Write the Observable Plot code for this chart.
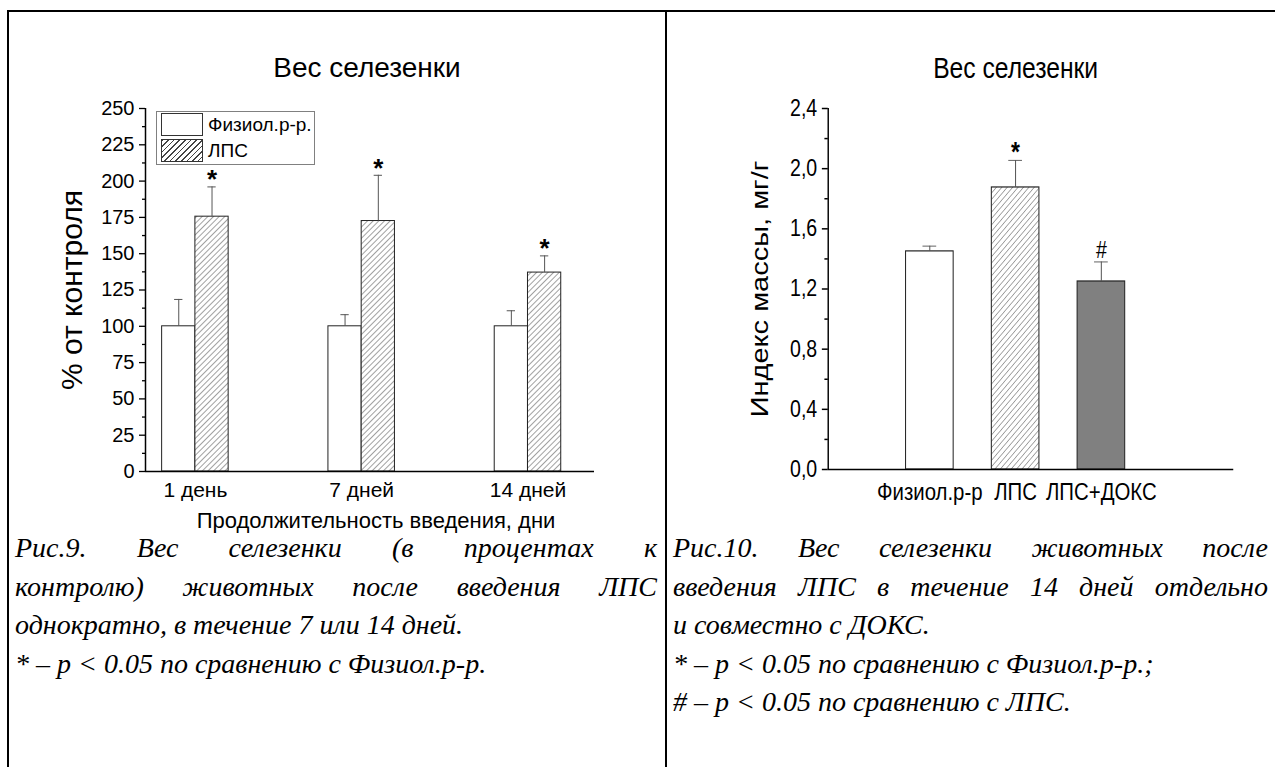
<!DOCTYPE html>
<html>
<head>
<meta charset="utf-8">
<script src="https://cdn.jsdelivr.net/npm/d3@7"></script>
<script src="https://cdn.jsdelivr.net/npm/@observablehq/plot@0.6"></script>
<style>
  body { margin: 0; background: #fff; width: 1275px; height: 767px; overflow: hidden; position: relative;
         font-family: "Liberation Sans", Arial, sans-serif; color: #000; }
  .abs { position: absolute; }
  .rule { position: absolute; background: #000; }
  .cap { position: absolute; font-family: "Liberation Serif", "Times New Roman", serif; font-style: italic;
         font-size: 28px; line-height: 38.5px; }
  .cap div { white-space: nowrap; }
  .cap div.j { text-align: justify; text-align-last: justify; }
  #legend { position: absolute; left: 156px; top: 111px; width: 157px; height: 52px;
            border: 1px solid #808080; font-size: 19px; background: #fff; }
  #legend .sw { position: absolute; left: 4px; width: 40px; height: 21px; border: 1px solid #333; }
  #legend .lb { position: absolute; left: 51px; line-height: 23px; }
  #left svg, #right svg { max-width: none !important; }
  #left g[aria-label="y-axis tick label"] text { font-size: 20px; }
  #left g[aria-label="x-axis tick label"] text { font-size: 21px; }
  #right g[aria-label="y-axis tick label"] text { font-size: 23px; }
  #right g[aria-label="x-axis tick label"] text { font-size: 24px; }
</style>
</head>
<body>
<!-- table borders -->
<div class="rule" style="left:7px;top:10px;width:1275px;height:2px"></div>
<div class="rule" style="left:7px;top:10px;width:2px;height:760px"></div>
<div class="rule" style="left:665px;top:10px;width:2px;height:760px"></div>

<div id="left" class="abs" style="left:9px;top:13px;width:655px"></div>
<div id="legend"></div>
<div id="right" class="abs" style="left:668px;top:13px;width:712px;transform:scaleX(0.85);transform-origin:0 0"></div>

<div class="cap" style="left:15px;top:529px;width:642px">
  <div class="j">Рис.9. Вес селезенки (в процентах к</div>
  <div class="j">контролю) животных после введения ЛПС</div>
  <div>однократно, в течение 7 или 14 дней.</div>
  <div>* – p &lt; 0.05 по сравнению с Физиол.р-р.</div>
</div>
<div class="cap" style="left:673px;top:529px;width:595px">
  <div class="j">Рис.10. Вес селезенки животных после</div>
  <div class="j">введения ЛПС в течение 14 дней отдельно</div>
  <div>и совместно с ДОКС.</div>
  <div>* – p &lt; 0.05 по сравнению с Физиол.р-р.;</div>
  <div># – p &lt; 0.05 по сравнению с ЛПС.</div>
</div>

<script>
// ---- Fig. 9: spleen weight, % of control, by treatment duration ----
const days = ["1 день", "7 дней", "14 дней"];
const series = ["Физиол.р-р.", "ЛПС"];
const salineMean = [100, 100, 100];
const salineErr = [18.5, 8, 10.7];
const lpsMean = [175.5, 172.5, 137];
const lpsErr = [20.5, 31.5, 11.5];
const lpsMarks = ["*", "*", "*"];
const pctTicks = d3.range(0, 251, 25);

// ---- Fig. 10: spleen mass index after 14 days ----
const groups = ["Физиол.р-р", "ЛПС", "ЛПС+ДОКС"];
const indexMean = [1.45, 1.875, 1.25];
const indexErr = [0.035, 0.18, 0.13];
const indexMarks = ["", "*", "#"];
const indexTicks = d3.range(0, 2.41, 0.4);

const sans = '"Liberation Sans", Arial, sans-serif';

function addHatch(svg, id, step) {
  const defs = d3.select(svg).insert("defs", ":first-child");
  const p = defs.append("pattern")
    .attr("id", id)
    .attr("patternUnits", "userSpaceOnUse")
    .attr("width", step).attr("height", step)
    .attr("patternTransform", "rotate(45)");
  p.append("rect").attr("width", step).attr("height", step).attr("fill", "#fff");
  p.append("line").attr("x1", 0).attr("y1", 0).attr("x2", 0).attr("y2", step)
    .attr("stroke", "#444").attr("stroke-width", 1);
}

// Left chart
{
  const saline = days.map((d, i) => ({g: i + 1, mean: salineMean[i], err: salineErr[i]}));
  const lps = days.map((d, i) => ({g: i + 1, mean: lpsMean[i], err: lpsErr[i], mark: lpsMarks[i]}));
  const bw = 0.2;      // bar width, in group units
  const cap = 0.025;   // half width of error caps
  const xDom = [0.7, 3.4];
  const yDom = [0, 250];
  const minor = pctTicks.slice(0, -1).map(t => t + 12.5);

  const svg = Plot.plot({
    width: 655, height: 525,
    marginLeft: 136, marginRight: 70, marginTop: 95, marginBottom: 67,
    style: {background: "transparent", fontFamily: sans, fontSize: "20px", overflow: "visible", color: "#000"},
    x: {domain: xDom},
    y: {domain: yDom},
    marks: [
      Plot.rect(saline, {x1: d => d.g - bw, x2: d => d.g, y1: 0, y2: "mean", fill: "#fff", stroke: "#222", strokeWidth: 1}),
      Plot.rect(lps, {x1: d => d.g, x2: d => d.g + bw, y1: 0, y2: "mean", fill: "url(#hatchL)", stroke: "#222", strokeWidth: 1}),
      Plot.ruleX(saline, {x: d => d.g - bw / 2, y1: "mean", y2: d => d.mean + d.err, stroke: "#555"}),
      Plot.ruleY(saline, {y: d => d.mean + d.err, x1: d => d.g - bw / 2 - cap, x2: d => d.g - bw / 2 + cap, stroke: "#555"}),
      Plot.ruleX(lps, {x: d => d.g + bw / 2, y1: "mean", y2: d => d.mean + d.err, stroke: "#555"}),
      Plot.ruleY(lps, {y: d => d.mean + d.err, x1: d => d.g + bw / 2 - cap, x2: d => d.g + bw / 2 + cap, stroke: "#555"}),
      Plot.text(lps, {x: d => d.g + bw / 2, y: d => d.mean + d.err, text: "mark", dy: -7, fontSize: 26, fontWeight: "bold"}),
      Plot.ruleY([0], {stroke: "#000", strokeWidth: 1.5}),
      Plot.ruleX([xDom[0]], {y1: yDom[0], y2: yDom[1], stroke: "#000", strokeWidth: 1.5}),
      Plot.axisY({ticks: pctTicks, tickSize: 6, tickPadding: 5, label: null, strokeWidth: 1.3}),
      Plot.axisY({ticks: minor, tickSize: 3, tickFormat: () => "", label: null, strokeWidth: 1.3}),
      Plot.axisX({ticks: [1, 2, 3], tickFormat: i => days[i - 1], tickSize: 0, tickPadding: 11, label: null}),
      Plot.text(["% от контроля"], {text: d => d, frameAnchor: "left", textAnchor: "middle", lineAnchor: "middle", dx: -73, rotate: -90, fontSize: 30}),
      Plot.text(["Продолжительность введения, дни"], {text: d => d, frameAnchor: "bottom", textAnchor: "middle", lineAnchor: "middle", dx: 6, dy: 49, fontSize: 22}),
      Plot.text(["Вес селезенки"], {text: d => d, frameAnchor: "top", textAnchor: "middle", lineAnchor: "middle", dx: -3, dy: -40, fontSize: 28})
    ]
  });
  addHatch(svg, "hatchL", 4);
  document.getElementById("left").append(svg);

  // legend
  const lg = document.getElementById("legend");
  const swFill = ["#fff", "repeating-linear-gradient(135deg, #444 0 1px, #fff 1px 4px)"];
  series.forEach((s, i) => {
    const sw = document.createElement("div");
    sw.className = "sw";
    sw.style.top = (1 + i * 26) + "px";
    sw.style.background = swFill[i];
    const lb = document.createElement("div");
    lb.className = "lb";
    lb.style.top = (1 + i * 26) + "px";
    lb.textContent = s;
    lg.append(sw, lb);
  });
}

// Right chart (drawn wide, then compressed horizontally by its container)
{
  const rows = groups.map((g, i) => ({g: i + 1, mean: indexMean[i], err: indexErr[i], mark: indexMarks[i]}));
  const fills = ["#fff", "url(#hatchR)", "#808080"];
  const bw = 0.555;
  const cap = 0.08;
  const xDom = [-0.184, 4.543];
  const yDom = [0, 2.4];
  const minor = indexTicks.slice(0, -1).map(t => t + 0.2);
  const comma = d => d.toFixed(1).replace(".", ",");

  const svg = Plot.plot({
    width: 712, height: 525,
    marginLeft: 188, marginRight: 47, marginTop: 95, marginBottom: 69,
    style: {background: "transparent", fontFamily: sans, fontSize: "23px", overflow: "visible", color: "#000"},
    x: {domain: xDom},
    y: {domain: yDom},
    color: {type: "identity"},
    marks: [
      Plot.rect(rows, {x1: d => d.g - bw / 2, x2: d => d.g + bw / 2, y1: 0, y2: "mean", fill: d => fills[d.g - 1], stroke: "#222", strokeWidth: 1.2}),
      Plot.ruleX(rows, {x: "g", y1: "mean", y2: d => d.mean + d.err, stroke: "#555", strokeWidth: 1.2}),
      Plot.ruleY(rows, {y: d => d.mean + d.err, x1: d => d.g - cap, x2: d => d.g + cap, stroke: "#555"}),
      Plot.text(rows.filter(d => d.mark === "*"), {x: "g", y: d => d.mean + d.err, text: "mark", dy: -8, fontSize: 27, fontWeight: "bold"}),
      Plot.text(rows.filter(d => d.mark === "#"), {x: "g", y: d => d.mean + d.err, text: "mark", dy: -11, fontSize: 23}),
      Plot.ruleY([0], {stroke: "#000", strokeWidth: 1.5}),
      Plot.ruleX([xDom[0]], {y1: yDom[0], y2: yDom[1], stroke: "#000", strokeWidth: 1.7}),
      Plot.axisY({ticks: indexTicks, tickFormat: comma, tickSize: 7, tickPadding: 6, label: null, strokeWidth: 1.5}),
      Plot.axisY({ticks: minor, tickSize: 4, tickFormat: () => "", label: null, strokeWidth: 1.5}),
      Plot.axisX({ticks: [1, 2, 3], tickFormat: i => groups[i - 1], tickSize: 0, tickPadding: 13, label: null}),
      Plot.text(["Индекс массы, мг/г"], {text: d => d, frameAnchor: "left", textAnchor: "middle", lineAnchor: "middle", dx: -80, rotate: -90, fontSize: 29}),
      Plot.text(["Вес селезенки"], {text: d => d, frameAnchor: "top", textAnchor: "middle", lineAnchor: "middle", dx: -18, dy: -40, fontSize: 29})
    ]
  });
  addHatch(svg, "hatchR", 4.5);
  document.getElementById("right").append(svg);
}
</script>
</body>
</html>
